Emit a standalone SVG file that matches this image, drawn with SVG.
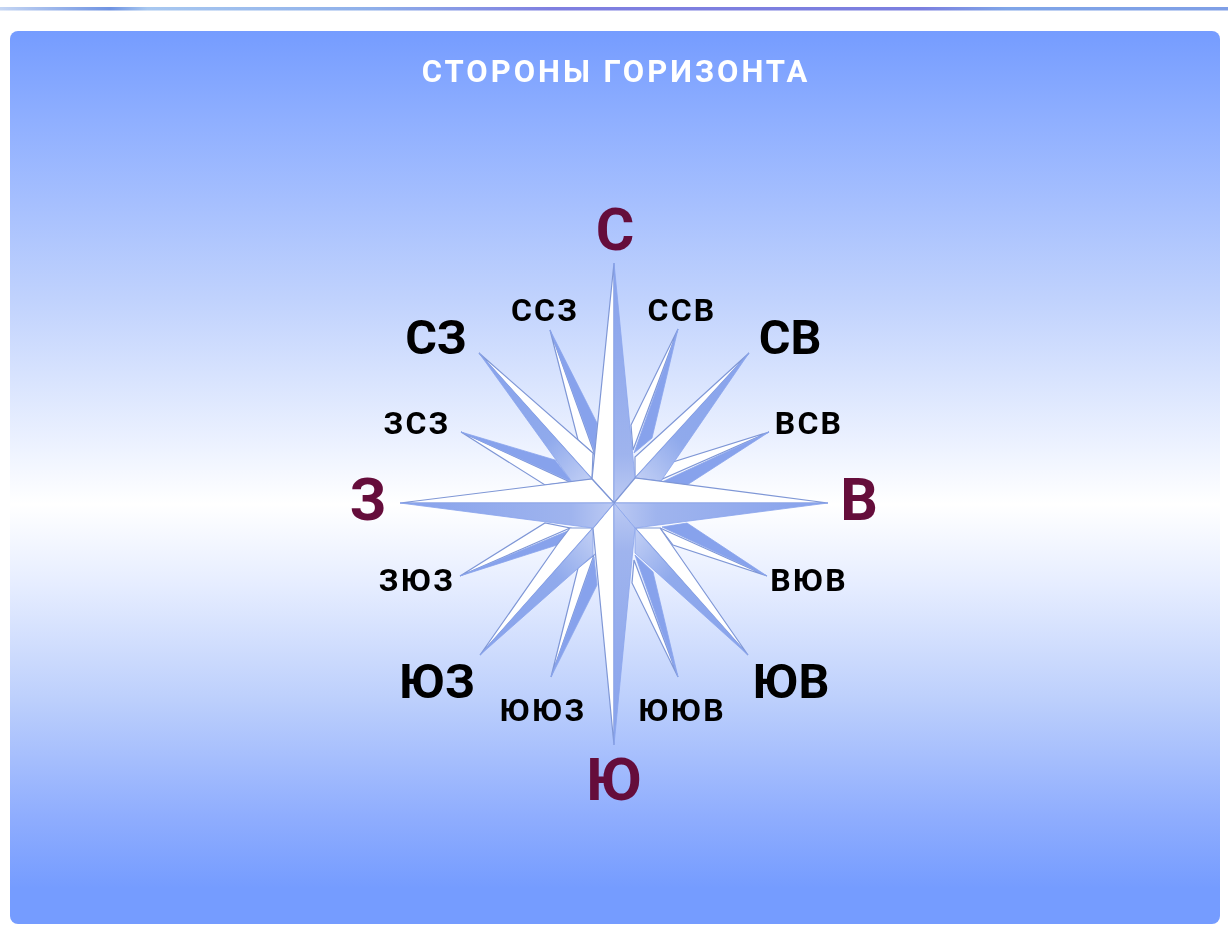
<svg xmlns="http://www.w3.org/2000/svg" width="1228" height="932" viewBox="0 0 1228 932">
<style>
text{font-family:Roboto,"Liberation Sans",sans-serif;font-weight:700;text-anchor:middle}
.m{font-size:59px;fill:#650a3a}
.d{font-size:48.5px;fill:#000}
.s{font-size:32px;fill:#000;letter-spacing:2.2px}
.w{fill:#fff;stroke:#7f97d6;stroke-width:1.2}
.g{fill:#87a2ec;stroke:#8aa5ec;stroke-width:.8}
.r{stroke:#8aa5ec;stroke-width:.8}
</style>
<defs>
<linearGradient id="panel" x1="0" y1="0" x2="0" y2="1">
<stop offset="0" stop-color="#759cff"/><stop offset=".1" stop-color="#8fafff"/><stop offset=".3" stop-color="#c0d2fd"/><stop offset=".47" stop-color="#eef3ff"/><stop offset=".53" stop-color="#ffffff"/><stop offset=".62" stop-color="#e6edff"/><stop offset=".75" stop-color="#bccffc"/><stop offset=".88" stop-color="#8fadfe"/><stop offset=".96" stop-color="#759cff"/><stop offset="1" stop-color="#759cff"/>
</linearGradient>
<linearGradient id="bar" x1="0" y1="0" x2="1" y2="0">
<stop offset="0" stop-color="#c5d6f3"/><stop offset=".09" stop-color="#6f93e2"/><stop offset=".12" stop-color="#a8c8f0"/><stop offset=".3" stop-color="#8fb0ea"/><stop offset=".45" stop-color="#7f7fe0"/><stop offset=".75" stop-color="#7b7fdf"/><stop offset=".82" stop-color="#7fa5e8"/><stop offset="1" stop-color="#7f9fe6"/>
</linearGradient>
<linearGradient id="n" x1="0" y1="0" x2="0" y2="1"><stop offset="0" stop-color="#87a2ec"/><stop offset=".8" stop-color="#9fb4ee"/><stop offset="1" stop-color="#bccaf3"/></linearGradient>
<linearGradient id="s" x1="0" y1="1" x2="0" y2="0"><stop offset="0" stop-color="#87a2ec"/><stop offset=".8" stop-color="#9fb4ee"/><stop offset="1" stop-color="#bccaf3"/></linearGradient>
<linearGradient id="e" x1="1" y1="0" x2="0" y2="0"><stop offset="0" stop-color="#87a2ec"/><stop offset=".8" stop-color="#9fb4ee"/><stop offset="1" stop-color="#bccaf3"/></linearGradient>
<linearGradient id="ww" x1="0" y1="0" x2="1" y2="0"><stop offset="0" stop-color="#87a2ec"/><stop offset=".8" stop-color="#9fb4ee"/><stop offset="1" stop-color="#bccaf3"/></linearGradient>
<linearGradient id="ne" x1="1" y1="0" x2="0" y2="1"><stop offset="0" stop-color="#87a2ec"/><stop offset=".65" stop-color="#90aaec"/><stop offset="1" stop-color="#c3d0f5"/></linearGradient>
<linearGradient id="nw" x1="0" y1="0" x2="1" y2="1"><stop offset="0" stop-color="#87a2ec"/><stop offset=".65" stop-color="#90aaec"/><stop offset="1" stop-color="#c3d0f5"/></linearGradient>
<linearGradient id="sw" x1="0" y1="1" x2="1" y2="0"><stop offset="0" stop-color="#87a2ec"/><stop offset=".65" stop-color="#90aaec"/><stop offset="1" stop-color="#c3d0f5"/></linearGradient>
<linearGradient id="se" x1="1" y1="1" x2="0" y2="0"><stop offset="0" stop-color="#87a2ec"/><stop offset=".65" stop-color="#90aaec"/><stop offset="1" stop-color="#c3d0f5"/></linearGradient>
<filter id="soft" x="-2%" y="-2%" width="104%" height="104%"><feGaussianBlur stdDeviation=".5"/></filter>
</defs>
<rect width="1228" height="932" fill="#fff"/>
<g id="top-bar"><rect x="0" y="7" width="1228" height="3.5" fill="url(#bar)"/></g>
<g id="panel-bg"><rect x="10" y="31" width="1210" height="893" rx="8" fill="url(#panel)"/></g>
<g filter="url(#soft)">
<g id="title"><text x="616" y="82" font-size="31" fill="#fff" letter-spacing="3">СТОРОНЫ ГОРИЗОНТА</text></g>
<g id="rose">
<g id="secondary-rays">
<polygon class="w" points="550,330 578,440 595,455"/><polygon class="g" points="550,330 597,423 595,453"/>
<polygon class="w" points="678,329 631,425 633,450"/><polygon class="g" points="678,329 652,438 634,453"/>
<polygon class="w" points="461,432 545,485 570,482"/><polygon class="g" points="461,432 555,460 572,482"/>
<polygon class="w" points="769,432 673,462 660,480"/><polygon class="g" points="769,432 687,485 662,482"/>
<polygon class="w" points="460,576 545,523 570,528"/><polygon class="g" points="460,576 557,545 570,530"/>
<polygon class="w" points="767,576 673,545 660,528"/><polygon class="g" points="767,576 687,523 662,527"/>
<polygon class="w" points="551,677 578,568 594,555"/><polygon class="g" points="551,677 597,585 594,557"/>
<polygon class="w" points="678,677 632,583 634,560"/><polygon class="g" points="678,677 653,572 635,555"/>
</g>
<g id="diagonal-rays">
<polygon class="w" points="749,353 635,457 635,478"/><polygon class="r" points="749,353 661,481 635,478" fill="url(#ne)"/>
<polygon class="w" points="479,353 593,453 592,479"/><polygon class="r" points="479,353 572,482 592,479" fill="url(#nw)"/>
<polygon class="w" points="480,655 557,545 570,528 593,528"/><polygon class="r" points="480,655 593,555 593,528" fill="url(#sw)"/>
<polygon class="w" points="748,655 660,528 635,528"/><polygon class="r" points="748,655 635,553 635,528" fill="url(#se)"/>
</g>
<g id="cardinal-rays">
<polygon class="w" points="614,263 592,479 614,503"/><polygon class="r" points="614,263 635,478 614,503" fill="url(#n)"/>
<polygon class="w" points="828,503 635,478 614,503"/><polygon class="r" points="828,503 635,528 614,503" fill="url(#e)"/>
<polygon class="w" points="614,745 593,528 614,503"/><polygon class="r" points="614,745 635,528 614,503" fill="url(#s)"/>
<polygon class="w" points="400,503 592,479 614,503"/><polygon class="r" points="400,503 593,528 614,503" fill="url(#ww)"/>
</g>
</g>
<g id="label-n"><text class="m" x="615" y="250">С</text></g>
<g id="label-e"><text class="m" x="859" y="520">В</text></g>
<g id="label-s"><text class="m" x="614" y="800">Ю</text></g>
<g id="label-w"><text class="m" x="368" y="520">З</text></g>
<g id="label-nw"><text class="d" x="436" y="354">СЗ</text></g>
<g id="label-ne"><text class="d" x="790" y="354">СВ</text></g>
<g id="label-sw"><text class="d" x="437" y="698">ЮЗ</text></g>
<g id="label-se"><text class="d" x="791" y="698">ЮВ</text></g>
<g id="label-nnw"><text class="s" x="545" y="321">ССЗ</text></g>
<g id="label-nne"><text class="s" x="682" y="321">ССВ</text></g>
<g id="label-wnw"><text class="s" x="417" y="434">ЗСЗ</text></g>
<g id="label-ene"><text class="s" x="809" y="434">ВСВ</text></g>
<g id="label-wsw"><text class="s" x="417" y="591">ЗЮЗ</text></g>
<g id="label-ese"><text class="s" x="809" y="591">ВЮВ</text></g>
<g id="label-ssw"><text class="s" x="543" y="721">ЮЮЗ</text></g>
<g id="label-sse"><text class="s" x="682" y="721">ЮЮВ</text></g>
</g>
</svg>
